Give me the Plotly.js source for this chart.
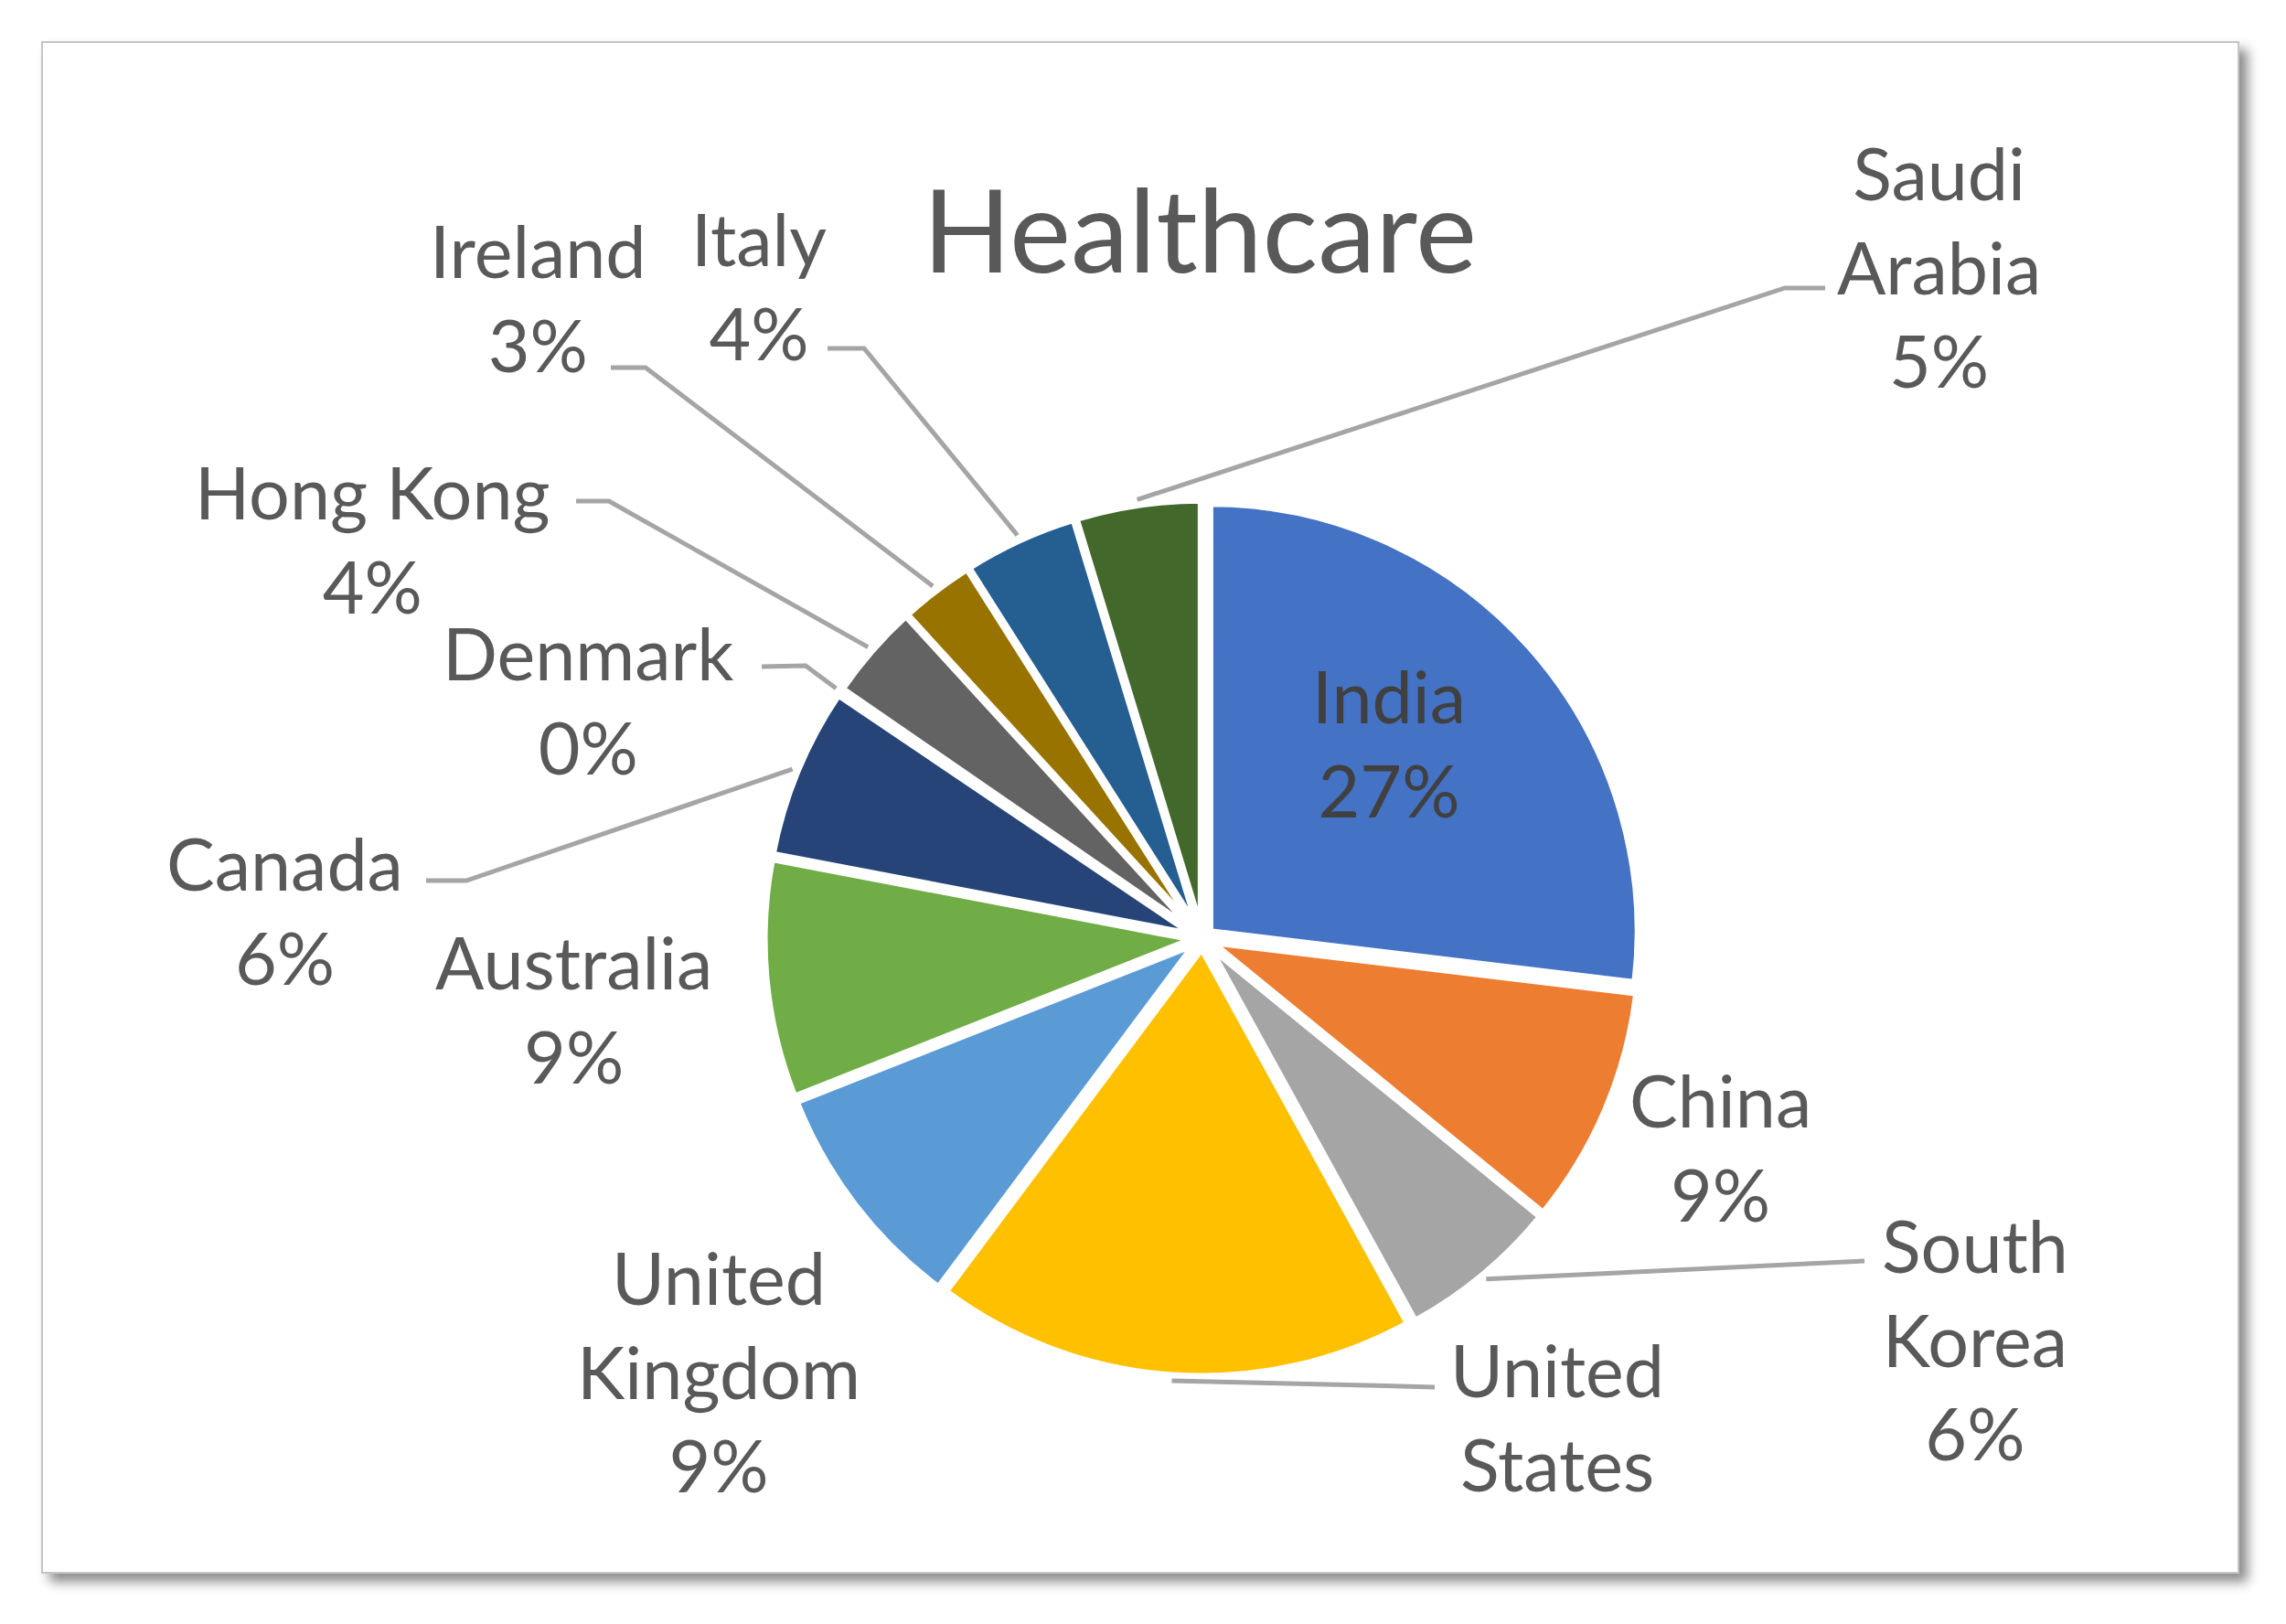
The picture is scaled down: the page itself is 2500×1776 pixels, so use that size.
<!DOCTYPE html>
<html><head><meta charset="utf-8">
<script src="https://cdn.plot.ly/plotly-3.0.1.min.js"></script>
<style>
html,body{margin:0;padding:0;background:#fff;width:2500px;height:1776px;overflow:hidden;}
#frame{position:absolute;left:45px;top:45px;width:2400px;height:1672px;border:2px solid #c4c4c4;background:#fff;box-shadow:9px 9px 12px rgba(0,0,0,0.45);}
#chart{position:absolute;left:0;top:0;width:2500px;height:1776px;}
</style></head><body>
<div id="frame"></div><div id="chart"></div>
<script>
// ---- data ----
const categories = ['India','China','South Korea','United States','United Kingdom','Australia','Canada','Denmark','Hong Kong','Ireland','Italy','Saudi Arabia'];
const shares = [26.9, 9.0, 6.1, 18.2, 8.8, 9.0, 6.45, 0.15, 3.6, 2.8, 4.3, 4.7];
const chartTitle = 'Healthcare';

// ---- styles / layout ----
const sliceColors = ['#4472C4','#ED7D31','#A5A5A5','#FFC000','#5B9BD5','#70AD47','#264478','#9E480E','#636363','#997300','#255E91','#43682B'];
const W = 2500, H = 1776;
const PULL = 0.024;
const DOM_X = [0.3344, 0.7176], DOM_Y = [0.1460, 0.6985];
const FONT = 'Lato, "Open Sans", sans-serif';
const TXT = '#595959';
// label placement in page pixels; leader = [start, elbow] in page pixels (end is computed from the slice)
const labelSpots = [
  {x:1519, y:812, wrap:false, pct:true, color:'#404040'},
  {x:1881, y:1254, wrap:false, pct:true},
  {x:2160, y:1464, wrap:true, pct:true, leader:[[2039,1379],[2039,1379]]},
  {x:1703, y:1549, wrap:true, pct:false, leader:[[1569,1517],[1533,1516]]},
  {x:786, y:1499, wrap:true, pct:true},
  {x:627, y:1103, wrap:false, pct:true},
  {x:311, y:995, wrap:false, pct:true, leader:[[466,963],[510,963]]},
  {x:643, y:765, wrap:false, pct:true, leader:[[833,729],[881,728]]},
  {x:407, y:589, wrap:false, pct:true, leader:[[630,548],[666,548]]},
  {x:588, y:325, wrap:false, pct:true, leader:[[668,402],[706,402]]},
  {x:830, y:312, wrap:false, pct:true, leader:[[905,381],[945,381]]},
  {x:2120, y:291, wrap:true, pct:true, leader:[[1996,315],[1952,315]]}
];

const total = shares.reduce((a,b)=>a+b,0);
const pctText = shares.map(v => Math.round(v/total*100) + '%');

const annotations = categories.map((c,i) => {
  const s = labelSpots[i];
  let t = s.wrap ? c.replace(' ', '<br>') : c;
  if (s.pct) t += '<br>' + pctText[i];
  return {text:t, x:s.x/W, y:1-s.y/H, xref:'paper', yref:'paper', xanchor:'center', yanchor:'middle',
          showarrow:false, align:'center', font:{family:FONT, size:79, color:s.color || TXT}};
});

function leaderShapes(cx, cy, r) {
  const shapes = [];
  let cum = 0;
  shares.forEach((v,i) => {
    const mid = 2*Math.PI*(cum + v/2)/total;
    cum += v;
    const s = labelSpots[i];
    if (!s.leader) return;
    const R = r*(1+PULL) + 6;
    const px = cx + R*Math.sin(mid), py = cy - R*Math.cos(mid);
    const pts = [s.leader[0], s.leader[1], [px,py]];
    const path = pts.map((p,k) => (k ? 'L' : 'M') + (p[0]/W).toFixed(5) + ',' + (1-p[1]/H).toFixed(5)).join(' ');
    shapes.push({type:'path', xref:'paper', yref:'paper', path:path, line:{color:'#A5A5A5', width:5}});
  });
  return shapes;
}

// geometry as plotly computes it (margins are zero)
const bw = W*(DOM_X[1]-DOM_X[0]), bh = H*(DOM_Y[1]-DOM_Y[0]);
let cx0 = W*(DOM_X[0]+DOM_X[1])/2, cy0 = H*(1-(DOM_Y[0]+DOM_Y[1])/2);
let r0 = Math.min(bw,bh)/(2*(1+PULL));

const trace = {
  type:'pie', labels:categories, values:shares, sort:false, direction:'clockwise', rotation:0,
  pull:PULL, marker:{colors:sliceColors, line:{color:'#ffffff', width:7}},
  textinfo:'none', hoverinfo:'label+percent', domain:{x:DOM_X, y:DOM_Y}, showlegend:false
};

const layout = {
  width:W, height:H, margin:{l:0,r:0,t:0,b:0},
  paper_bgcolor:'rgba(0,0,0,0)', plot_bgcolor:'rgba(0,0,0,0)',
  title:{text:chartTitle, font:{family:FONT, size:127, color:TXT}, x:1312/W, xanchor:'center',
         y:1-254/H, yanchor:'middle', yref:'container', xref:'container'},
  annotations:annotations,
  shapes:leaderShapes(cx0, cy0, r0),
  showlegend:false
};

Plotly.newPlot('chart', [trace], layout, {displayModeBar:false, staticPlot:true}).then(gd => {
  try {
    const cd0 = gd.calcdata[0][0];
    if (cd0 && isFinite(cd0.r) && isFinite(cd0.cx) && isFinite(cd0.cy) &&
        (Math.abs(cd0.r-r0) > 0.5 || Math.abs(cd0.cx-cx0) > 0.5 || Math.abs(cd0.cy-cy0) > 0.5)) {
      Plotly.relayout(gd, {shapes: leaderShapes(cd0.cx, cd0.cy, cd0.r)});
    }
  } catch(e) {}
});
</script></body></html>
